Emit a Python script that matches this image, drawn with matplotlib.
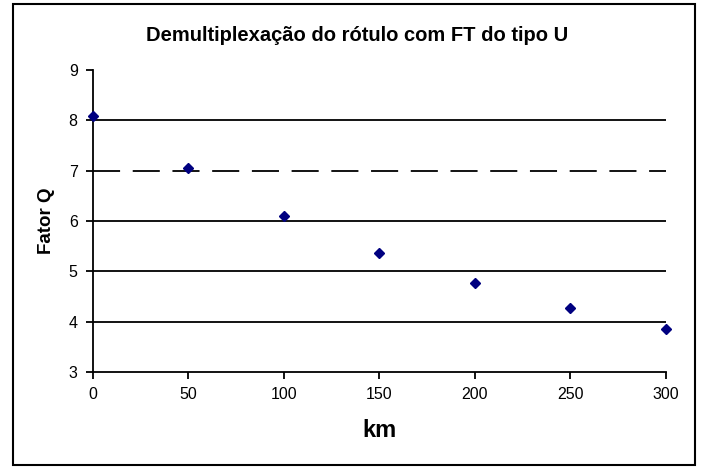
import matplotlib.pyplot as plt
from matplotlib.patches import Rectangle

km = [0, 50, 100, 150, 200, 250, 300]
fator_q = [8.08, 7.05, 6.1, 5.37, 4.77, 4.27, 3.85]
solid_levels = [4, 5, 6, 8]
dashed_level = 7

plt.rcParams['font.family'] = ['Liberation Sans', 'DejaVu Sans']

fig = plt.figure(figsize=(7.06, 4.67), dpi=100)
ax = fig.add_axes([0.1317, 0.2034, 0.8116, 0.6467])

for lv in solid_levels:
    ax.axhline(lv, color='black', lw=1.3, zorder=1)
ax.axhline(dashed_level, color='black', lw=1.3, ls=(0, (15, 7)), zorder=1)

ax.plot(km, fator_q, ls='none', marker='D', ms=5.5, color='#000080', zorder=3, clip_on=False)

ax.set_xlim(0, 300)
ax.set_ylim(3, 9)
ax.set_xticks(range(0, 301, 50))
ax.set_yticks(range(3, 10))
ax.spines['top'].set_visible(False)
ax.spines['right'].set_visible(False)
ax.spines['left'].set_linewidth(1.3)
ax.spines['bottom'].set_linewidth(1.3)
ax.tick_params(direction='out', length=5, width=1.3, labelsize=11.5, pad=6)

fig.text(0.506, 0.925, 'Demultiplexação do rótulo com FT do tipo U', fontsize=14.5,
         fontweight='bold', ha='center', va='center')
ax.set_xlabel('km', fontsize=17, fontweight='bold', labelpad=12)
ax.set_ylabel('Fator Q', fontsize=13.5, fontweight='bold', labelpad=10)

fig.patches.append(Rectangle((0.018, 0.004), 0.966, 0.988, transform=fig.transFigure,
                             fill=False, edgecolor='black', lw=1.5))

fig.savefig('out.png', dpi=100)
